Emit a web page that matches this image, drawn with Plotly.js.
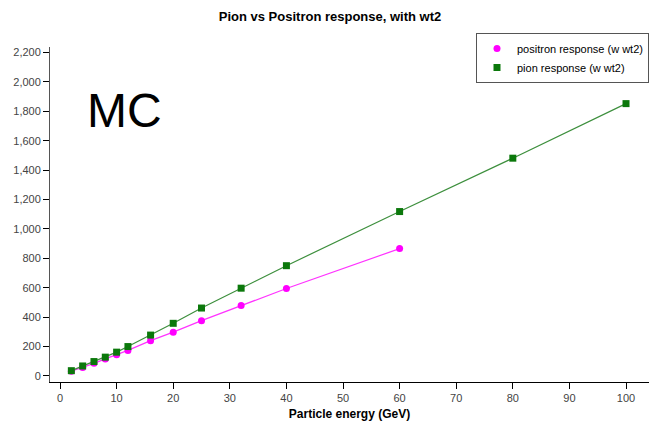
<!DOCTYPE html>
<html>
<head>
<meta charset="utf-8">
<script src="https://cdn.plot.ly/plotly-3.0.1.min.js"></script>
<style>html,body{margin:0;padding:0;background:#fff;}#chart{width:649px;height:423px;}</style>
</head>
<body>
<div id="chart"></div>
<script>
var positronEnergy = [2, 4, 6, 8, 10, 12, 16, 20, 25, 32, 40, 60];
var positronResponse = [32, 58, 86, 116, 144, 174, 240, 298, 376, 480, 595, 866];
var pionEnergy = [2, 4, 6, 8, 10, 12, 16, 20, 25, 32, 40, 60, 80, 100];
var pionResponse = [36, 68, 98, 128, 162, 200, 278, 358, 462, 597, 750, 1118, 1481, 1852];
var seriesNames = ["positron response (w wt2)", "pion response (w wt2)"];

var traces = [
  {
    x: positronEnergy, y: positronResponse, name: seriesNames[0],
    type: "scatter", mode: "lines", showlegend: false, hoverinfo: "skip",
    line: {color: "#ff33ff", width: 1.2}
  },
  {
    x: pionEnergy, y: pionResponse, name: seriesNames[1],
    type: "scatter", mode: "lines", showlegend: false, hoverinfo: "skip",
    line: {color: "#3d8f3d", width: 1.2}
  },
  {
    x: positronEnergy, y: positronResponse, name: seriesNames[0],
    type: "scatter", mode: "markers",
    marker: {color: "#ff00ff", symbol: "circle", size: 7}
  },
  {
    x: pionEnergy, y: pionResponse, name: seriesNames[1],
    type: "scatter", mode: "markers",
    marker: {color: "#0b780b", symbol: "square", size: 7}
  }
];

var layout = {
  width: 649, height: 423,
  margin: {l: 50, r: 0, t: 47, b: 41},
  paper_bgcolor: "#ffffff", plot_bgcolor: "#ffffff",
  font: {family: "Liberation Sans, Arial, sans-serif", size: 11, color: "#444"},
  separators: ".,",
  showlegend: true,
  title: {
    text: "<b>Pion vs Positron response, with wt2</b>",
    font: {family: "Liberation Sans, Arial, sans-serif", size: 13, color: "#000"},
    xref: "container", yref: "container",
    x: 330/649, y: 1 - 16/423, xanchor: "center", yanchor: "middle"
  },
  xaxis: {
    range: [-1.77, 104.06],
    dtick: 10, tick0: 0,
    showgrid: false, zeroline: false,
    showline: true, linecolor: "#000", linewidth: 1,
    ticks: "outside", ticklen: 6, tickcolor: "#000", tickwidth: 1,
    tickfont: {size: 11, color: "#444"},
    title: {text: "<b>Particle energy (GeV)</b>", font: {size: 12, color: "#000"}, standoff: 6}
  },
  yaxis: {
    range: [-41, 2237],
    dtick: 200, tick0: 0,
    tickformat: ",d",
    showgrid: false, zeroline: false,
    showline: true, linecolor: "#555", linewidth: 1,
    ticks: "outside", ticklen: 6, tickcolor: "#000", tickwidth: 1,
    tickfont: {size: 11, color: "#444"}
  },
  legend: {
    x: 1, y: 1 - (33 - 47) / 335, xref: "paper", yref: "paper",
    xanchor: "right", yanchor: "top",
    bgcolor: "#ffffff", bordercolor: "#555", borderwidth: 1,
    font: {size: 11, color: "#000"},
    tracegroupgap: 0, itemwidth: 30
  },
  annotations: [
    {
      text: "MC", xref: "paper", yref: "paper",
      x: (124 - 50) / 599, y: 1 - (110 - 47) / 335,
      xanchor: "center", yanchor: "middle", showarrow: false,
      font: {family: "Liberation Sans, Arial, sans-serif", size: 48, color: "#000"}
    }
  ]
};

Plotly.newPlot("chart", traces, layout, {displayModeBar: false, staticPlot: true});
</script>
</body>
</html>
